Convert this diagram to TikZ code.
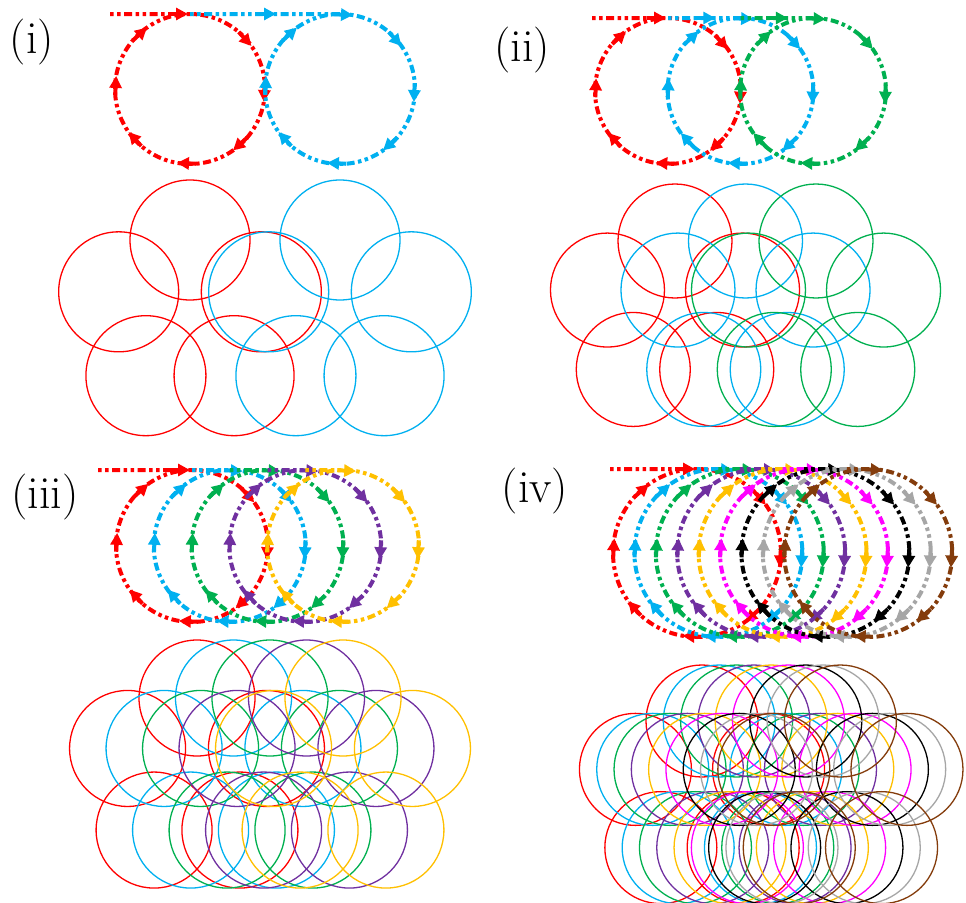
\documentclass[tikz,border=0pt]{standalone}
\usetikzlibrary{arrows.meta}
\definecolor{cA}{RGB}{255,0,0}
\definecolor{cB}{RGB}{0,176,240}
\definecolor{cC}{RGB}{0,176,80}
\definecolor{cD}{RGB}{112,48,160}
\definecolor{cE}{RGB}{255,192,0}
\definecolor{cF}{RGB}{255,0,255}
\definecolor{cG}{RGB}{0,0,0}
\definecolor{cH}{RGB}{166,166,166}
\definecolor{cI}{RGB}{132,60,12}
\tikzset{
  trail/.style={line width=4pt, dash pattern=on 3.5pt off 3.5pt on 3.5pt off 3.5pt on 8pt off 3.5pt},
  arrw/.style={solid, line width=4pt, -{Triangle[length=12pt,width=12pt]}},
  ring/.style={line width=1.3pt},
  lbl/.style={font=\fontsize{46}{52}\selectfont, inner sep=0pt}
}
% #1 start x, #2 first centre x, #3 spacing, #4 centre y (px, downwards), #5 radius, #6 list, #7 mid arrows (1/0)
\newcommand\drawtop[7]{%
  \foreach \k/\col in {#6} {%
    \pgfmathsetmacro\cx{#2+\k*(#3)}%
    \pgfmathsetmacro\px{\k==0 ? #1 : #2+(\k-1)*(#3)}%
    \pgfmathsetmacro\ty{-(#4)+(#5)}%
    \pgfmathsetmacro\da{19/(#5)*57.3}%
    \draw[trail,\col] (\px,\ty) -- (\cx,\ty) arc[start angle=90,end angle=-270,radius=#5pt];
    \ifnum\k=0
      \draw[arrw,\col] (\cx-21,\ty) -- (\cx-2,\ty);
    \else
      \ifnum#7=1
        \draw[arrw,\col] ({(\px+\cx)/2-8},\ty) -- ({(\px+\cx)/2+11},\ty);
      \fi
      \pgfmathsetmacro\bb{80+\da}%
      \draw[arrw,\col] ([shift={(\cx,-#4)}]\bb:#5) -- ([shift={(\cx,-#4)}]80:#5);
    \fi
    \foreach \a in {125,35,-10,-55,-100,-145,170} {%
      \pgfmathsetmacro\bb{\a+\da}%
      \draw[arrw,\col] ([shift={(\cx,-#4)}]\bb:#5) -- ([shift={(\cx,-#4)}]\a:#5);
    }
  }%
}
% #1 first centre x, #2 spacing, #3 centre y, #4 R, #5 r, #6 list
\newcommand\drawbot[6]{%
  \foreach \k/\col in {#6} {%
    \pgfmathsetmacro\cx{#1+\k*(#2)}%
    \foreach \t in {90,162,234,306,18}
      \draw[ring,\col] ([shift={(\cx,-#3)}]\t:#4) circle[radius=#5pt];
  }%
}
\begin{document}
\begin{tikzpicture}[x=1pt,y=1pt]
\fill[white] (0,0) rectangle (966,-902);
\useasboundingbox (0,0) rectangle (966,-902);
% labels
\node[lbl] (l1) at (32,-42) {(i)};
\node[lbl] (l2) at (522,-50) {(ii)};
\node[lbl] (l3) at (45,-497) {(iii)};
\node[lbl] (l4) at (535,-491) {(iv)};
% panel (i)
\drawtop{110}{190}{150}{89}{75}{0/cA,1/cB}{1}
\drawbot{190}{150}{315}{75}{60}{0/cA,1/cB}
% panel (ii)
\drawtop{592}{668}{72.5}{91}{73}{0/cA,1/cB,2/cC}{1}
\drawbot{675}{70.5}{312}{71}{57}{0/cA,1/cB,2/cC}
% panel (iii)
\drawtop{98}{192}{37.75}{546}{76}{0/cA,1/cB,2/cC,3/cD,4/cE}{0}
\drawbot{197}{36.5}{771}{73}{58}{0/cA,1/cB,2/cC,3/cD,4/cE}
% panel (iv)
\drawtop{610}{697}{21.4}{553}{84}{0/cA,1/cB,2/cC,3/cD,4/cE,5/cF,6/cG,7/cH,8/cI}{0}
\drawbot{702}{17.3}{791}{70}{56}{0/cA,1/cB,2/cC,3/cD,4/cE,5/cF,6/cG,7/cH,8/cI}
\end{tikzpicture}
\end{document}
